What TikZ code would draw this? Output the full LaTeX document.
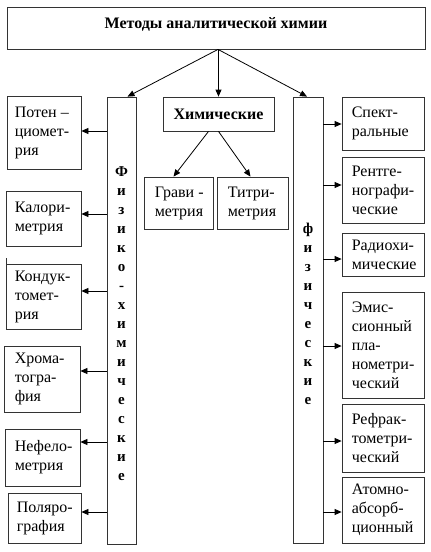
\documentclass[tikz,border=0pt]{standalone}
\usepackage{fontspec}
\setmainfont{Liberation Serif}
\usetikzlibrary{arrows.meta,fit,calc}
\newcommand\tbox[7]{%
  \node[boxst,fit={(#2,#3) (#4,#5)}] (#1) {};
  \node[txt] (#1t) at ([xshift=#6pt]#1.west) {#7};}
\begin{document}
\begin{tikzpicture}[x=1pt,y=-1pt,
  boxst/.style={draw=black!80,line width=0.8pt,inner sep=0pt},
  txt/.style={inner sep=0pt,align=left,font=\fontsize{16}{19}\selectfont,anchor=west},
  bold/.style={inner sep=0pt,font=\bfseries\fontsize{16}{19}\selectfont},
  vert/.style={inner sep=0pt,align=center,font=\bfseries\fontsize{15}{19}\selectfont},
  arr/.style={line width=0.8pt,-{Triangle[length=7pt,width=6pt]}}]
\useasboundingbox[fill=white] (0,0) rectangle (431,552);
% top
\node[boxst,fit={(7,7) (425,49)}] (top) {};
\node[bold,anchor=base] (title) at (top.center) {Методы аналитической химии};
% columns
\node[boxst,fit={(107,97) (136,544)}] (colL) {};
\node[boxst,fit={(293,97) (323,543)}] (colR) {};
\node[vert] (colLt) at ([yshift=-3pt]colL.center) {Ф\\и\\з\\и\\к\\о\\-\\х\\и\\м\\и\\ч\\е\\с\\к\\и\\е};
\node[vert] (colRt) at ([yshift=6pt]colR.center) {ф\\и\\з\\и\\ч\\е\\с\\к\\и\\е};
% center
\node[boxst,fit={(163,97) (274,131)}] (chem) {};
\node[bold] (chemt) at (chem.center) {Химические};
\tbox{grav}{144}{177}{213}{229}{11}{Грави -\\метрия}
\tbox{titr}{217}{177}{288}{229}{11}{Титри-\\метрия}
% left boxes
\tbox{pot}{7}{96}{81}{169}{8}{Потен –\\циомет-\\рия}
\tbox{kal}{6}{191}{81}{246}{9}{Калори-\\метрия}
\tbox{kon}{6}{264}{81}{329}{9}{Кондук-\\томет-\\рия}
\tbox{chr}{4}{346}{80}{412}{11}{Хрома-\\тогра-\\фия}
\tbox{nef}{5}{429}{80}{486}{10}{Нефело-\\метрия}
\tbox{pol}{8}{493}{81}{543}{9}{Поляро-\\графия}
% right boxes
\tbox{spe}{342}{97}{424}{150}{10}{Спект-\\ральные}
\tbox{ren}{342}{157}{424}{223}{10}{Рентге-\\нографи-\\ческие}
\tbox{rad}{342}{233}{424}{276}{10}{Радиохи-\\мические}
\tbox{emi}{342}{292}{424}{398}{10}{Эмис-\\сионный\\пла-\\нометри-\\ческий}
\tbox{ref}{342}{404}{424}{472}{10}{Рефрак-\\тометри-\\ческий}
\tbox{ato}{342}{477}{424}{543}{10}{Атомно-\\абсорб-\\ционный}
% stray tick
\draw[black!80,line width=0.8pt] (6,258) -- (6,264);
% arrows from top
\draw[arr] ([xshift=2pt]top.south) -- ([xshift=6pt]colL.north);
\draw[arr] (top.south -| chem.north) -- (chem.north);
\draw[arr] ([xshift=2pt]top.south) -- ([xshift=-1pt]colR.north);
% chem arrows
\draw[arr] ([xshift=-10pt]chem.south) -- ([xshift=-5pt]grav.north);
\draw[arr] (chem.south) -- ([xshift=-2pt]titr.north);
% left arrows
\draw[arr] (colL.west |- 0,131) -- (pot.east |- 0,131);
\draw[arr] (colL.west |- 0,214) -- (kal.east |- 0,214);
\draw[arr] (colL.west |- 0,291) -- (kon.east |- 0,291);
\draw[arr] (colL.west |- 0,371) -- (chr.east |- 0,371);
\draw[arr] (colL.west |- 0,442) -- (nef.east |- 0,442);
\draw[arr] (colL.west |- 0,512) -- (pol.east |- 0,512);
% right arrows
\draw[arr] (colR.east |- 0,124) -- (spe.west |- 0,124);
\draw[arr] (colR.east |- 0,185) -- (ren.west |- 0,185);
\draw[arr] (colR.east |- 0,259) -- (rad.west |- 0,259);
\draw[arr] (colR.east |- 0,346) -- (emi.west |- 0,346);
\draw[arr] (colR.east |- 0,441) -- (ref.west |- 0,441);
\draw[arr] (colR.east |- 0,512) -- (ato.west |- 0,512);
\end{tikzpicture}
\end{document}
